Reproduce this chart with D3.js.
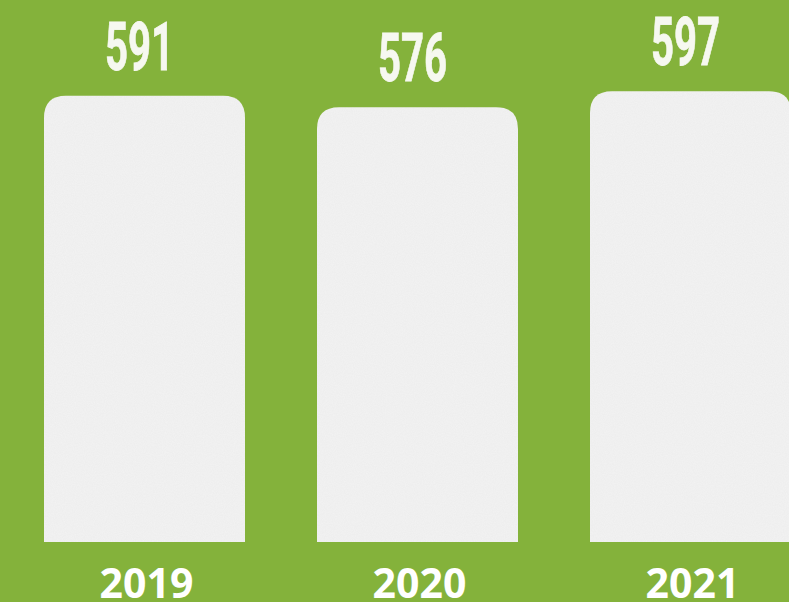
<!DOCTYPE html>
<html><head><meta charset="utf-8">
<script src="https://cdn.jsdelivr.net/npm/d3@7"></script>
<style>html,body{margin:0;padding:0;background:#84b23b;overflow:hidden}</style>
</head><body>
<script>
const years = ["2019", "2020", "2021"];
const values = [591, 576, 597];

const W = 789, H = 602;
const svg = d3.select("body").append("svg").attr("width", W).attr("height", H);
const defs = svg.append("defs");
const f = defs.append("filter").attr("id", "grain").attr("x", 0).attr("y", 0).attr("width", 1).attr("height", 1);
f.append("feTurbulence").attr("type", "fractalNoise").attr("baseFrequency", 0.9).attr("numOctaves", 2).attr("seed", 3).attr("result", "n");
f.append("feColorMatrix").attr("in", "n").attr("type", "matrix")
  .attr("values", "0 0 0 0 0  0 0 0 0 0  0 0 0 0 0  0 0 0 0.05 0").attr("result", "a");
f.append("feComposite").attr("in", "a").attr("in2", "SourceGraphic").attr("operator", "in").attr("result", "b");
f.append("feMerge").selectAll("feMergeNode").data(["SourceGraphic", "b"]).join("feMergeNode").attr("in", d => d);

svg.append("rect").attr("width", W).attr("height", H).attr("fill", "#84b23b");

const x = d3.scaleBand().domain(years).range([44, 791]).paddingInner(72 / 273).paddingOuter(0);
const y = d3.scaleLinear().domain([0, 718]).range([542, 0]);
const r = 22;

function barPath(x0, y0, w, y1) {
  return `M${x0},${y1}V${y0 + r}Q${x0},${y0} ${x0 + r},${y0}H${x0 + w - r}Q${x0 + w},${y0} ${x0 + w},${y0 + r}V${y1}Z`;
}

const data = years.map((yr, i) => ({ yr, v: values[i] }));

svg.append("g").selectAll("path").data(data).join("path")
  .attr("d", d => barPath(x(d.yr), y(d.v), x.bandwidth(), y(0)))
  .attr("fill", "#f3f3f3")
  .attr("filter", "url(#grain)");

svg.append("g").selectAll("text").data(data).join("text")
  .attr("transform", d => `translate(${x(d.yr) + x.bandwidth() / 2 - 5},${y(d.v) - 26}) scale(0.6,1)`)
  .attr("text-anchor", "middle")
  .attr("font-family", "Roboto, sans-serif")
  .attr("font-weight", 700)
  .attr("font-size", 67)
  .attr("stroke", "#f6f8f0")
  .attr("stroke-width", 0.8)
  .attr("fill", "#f6f8f0")
  .text(d => d.v);

svg.append("g").selectAll("text").data(data).join("text")
  .attr("x", d => x(d.yr) + x.bandwidth() / 2 + 2)
  .attr("y", 598)
  .attr("text-anchor", "middle")
  .attr("font-family", "'Open Sans', sans-serif")
  .attr("font-weight", 700)
  .attr("font-size", 41)
  .attr("fill", "#ffffff")
  .text(d => d.yr);
</script>
</body></html>
